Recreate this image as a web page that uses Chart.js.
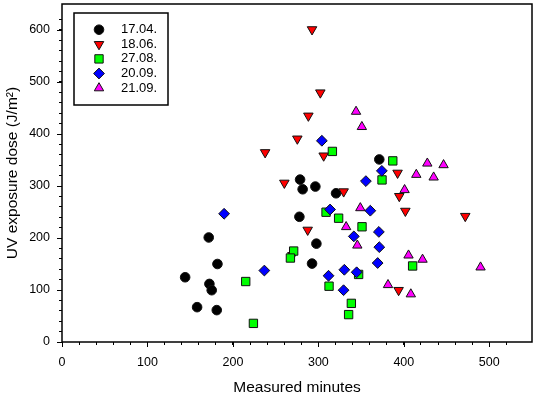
<!DOCTYPE html>
<html>
<head>
<meta charset="utf-8">
<script src="https://cdn.jsdelivr.net/npm/chart.js@4.4.0/dist/chart.umd.min.js"></script>
<style>
html,body{margin:0;padding:0;background:#fff;}
canvas{display:block;}
</style>
</head>
<body>
<canvas id="chart" width="536" height="398"></canvas>
<script>
const FONT = "'Liberation Sans', Arial, sans-serif";

// --- Daten ---
const seriesLabels = ["17.04.", "18.06.", "27.08.", "20.09.", "21.09."];

const x1704 = [171.7, 181.9, 144.1, 172.5, 175.2, 158.1, 181.1, 278.6, 281.6, 296.5, 320.7, 277.8, 297.7, 292.6, 371.3];
const y1704 = [201, 150, 124.5, 111.7, 99.6, 67, 61.3, 312.3, 293.7, 298.9, 286, 240.8, 189.1, 150.8, 351.1];

const x1806 = [292.6, 302.3, 288.3, 275.4, 237.7, 306.2, 260.2, 329.6, 392.7, 394.7, 401.8, 471.9, 287.5, 393.9, 269.6];
const y1806 = [601, 479.5, 434.9, 390.8, 364.6, 358.2, 305.9, 289.3, 325.1, 280.3, 251.9, 242, 215.5, 99.6, 166.7];

const x2708 = [215, 224, 271.1, 267.3, 316.4, 387.1, 374.5, 309, 323.7, 351.1, 347.1, 312.5, 338.6, 335.4, 410.3];
const y2708 = [116.3, 35.8, 174.9, 161.5, 366.5, 348.3, 311.7, 249.6, 238.1, 221.6, 129.9, 107.3, 74.3, 52.7, 146.2];

const x2009 = [189.7, 236.8, 304.1, 374.3, 355.6, 313.7, 360.8, 370.8, 341.5, 371.3, 369.4, 330.4, 344.8, 311.9, 329.5];
const y2009 = [246.6, 137.4, 387, 329.1, 309.4, 254.8, 252.5, 211.7, 203.1, 182.4, 151.9, 138.9, 134.1, 127.4, 99.6];

const x2109 = [344.1, 350.9, 427.5, 446.5, 414.6, 434.9, 400.9, 349.1, 332.5, 345.6, 405.5, 421.9, 489.8, 381.5, 408.2];
const y2109 = [443.1, 413.8, 343.5, 340.4, 321.8, 316.7, 292.5, 257.7, 221.3, 185.8, 166.7, 158.6, 143.7, 109.8, 92];

const xTickLabels = [0, 100, 200, 300, 400, 500];
const yTickLabels = [0, 100, 200, 300, 400, 500, 600];

// --- Hilfsfunktionen ---
function toPoints(xs, ys){
    return xs.map((x, i) => ({x: x, y: ys[i]}));
}

function makeSet(idx, xs, ys, style, color, radius, rotation){
    return {
        label: seriesLabels[idx],
        data: toPoints(xs, ys),
        pointStyle: style,
        pointRotation: rotation || 0,
        pointRadius: radius,
        pointBackgroundColor: color,
        pointBorderColor: "#111",
        pointBorderWidth: 1,
        showLine: false,
        order: 5 - idx   // spaetere Serie liegt oben
    };
}

const datasets = [
    makeSet(0, x1704, y1704, "circle", "#000000", 4.8),
    makeSet(1, x1806, y1806, "triangle", "#ff0000", 5.5, 180),
    makeSet(2, x2708, y2708, "rect", "#00ff00", 5.9),
    makeSet(3, x2009, y2009, "rectRot", "#0000ff", 5.4),
    makeSet(4, x2109, y2109, "triangle", "#ff00ff", 5.4)
];

// Rahmen + lange Haupt-Ticks
const framePlugin = {
    id: "frame",
    afterDraw(chart){
        const ctx = chart.ctx, a = chart.chartArea;
        const xs = chart.scales.x, ys = chart.scales.y;
        ctx.save();
        ctx.strokeStyle = "#000";
        ctx.lineWidth = 1.5;
        ctx.strokeRect(a.left, a.top, a.right - a.left, a.bottom - a.top);
        ctx.lineWidth = 1;
        ctx.beginPath();
        xTickLabels.forEach(v => {
            const px = Math.round(xs.getPixelForValue(v)) + 0.5;
            ctx.moveTo(px, a.bottom);
            ctx.lineTo(px, a.bottom + 5);
        });
        yTickLabels.forEach(v => {
            const py = Math.round(ys.getPixelForValue(v)) + 0.5;
            ctx.moveTo(a.left - 5, py);
            ctx.lineTo(a.left, py);
        });
        ctx.stroke();
        ctx.restore();
    }
};

// Legende mit Kasten im Diagramm
const legendBoxPlugin = {
    id: "legendBox",
    afterDraw(chart){
        const ctx = chart.ctx;
        ctx.save();
        ctx.strokeStyle = "#000";
        ctx.lineWidth = 1.5;
        ctx.strokeRect(74, 13, 94, 92);
        ctx.font = "13px " + FONT;
        ctx.textBaseline = "middle";
        ctx.textAlign = "left";
        chart.data.datasets.forEach((ds, i) => {
            const y = 29.7 + i * 14.6;
            ctx.fillStyle = ds.pointBackgroundColor;
            ctx.strokeStyle = ds.pointBorderColor;
            ctx.lineWidth = 1;
            Chart.helpers.drawPoint(ctx, {
                pointStyle: ds.pointStyle,
                rotation: ds.pointRotation,
                radius: ds.pointRadius,
                borderWidth: 1
            }, 99, y);
            ctx.fillStyle = "#000";
            ctx.fillText(ds.label, 121, y);
        });
        ctx.restore();
    }
};

function keepSteps(scale){
    scale.ticks = scale.ticks.filter(t => Math.abs(t.value % 20) < 1e-6);
}

new Chart(document.getElementById("chart"), {
    type: "scatter",
    data: {datasets: datasets},
    options: {
        responsive: false,
        animation: false,
        layout: {autoPadding: false, padding: {top: 4, right: 4, left: 0, bottom: 0}},
        plugins: {legend: {display: false}, tooltip: {enabled: false}},
        scales: {
            x: {
                type: "linear", position: "bottom", min: 0, max: 550,
                afterFit: s => { s.height = 56; s.paddingLeft = 0; s.paddingRight = 0; },
                afterBuildTicks: keepSteps,
                border: {display: false},
                grid: {drawOnChartArea: false, tickLength: 3, color: "#000", lineWidth: 1},
                ticks: {
                    stepSize: 20, autoSkip: false, maxRotation: 0, padding: 10,
                    color: "#000", font: {family: FONT, size: 12.5},
                    callback: v => xTickLabels.includes(v) ? String(v) : ""
                },
                title: {display: true, text: "Measured minutes", color: "#000",
                        font: {family: FONT, size: 15.5}, padding: {top: 1, bottom: 1}}
            },
            y: {
                type: "linear", position: "left", min: 0, max: 650,
                afterFit: s => { s.width = 62; s.paddingTop = 0; s.paddingBottom = 0; },
                afterBuildTicks: keepSteps,
                border: {display: false},
                grid: {drawOnChartArea: false, tickLength: 3, color: "#000", lineWidth: 1},
                ticks: {
                    stepSize: 20, autoSkip: false, padding: 9,
                    color: "#000", font: {family: FONT, size: 12.5},
                    callback: v => yTickLabels.includes(v) ? String(v) : ""
                },
                title: {display: true, text: "UV exposure dose (J/m²)", color: "#000",
                        font: {family: FONT, size: 15.5}, padding: {top: 3, bottom: 3}}
            }
        }
    },
    plugins: [framePlugin, legendBoxPlugin]
});
</script>
</body>
</html>
